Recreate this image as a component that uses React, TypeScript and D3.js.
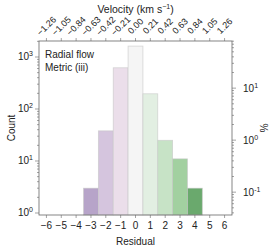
import React from "react";
import * as d3 from "d3";

// residual bins and counts
const bins = [-3, -2, -1, 0, 1, 2, 3, 4];
const counts = [3, 38, 620, 1620, 196, 25, 11, 3];
const barColors = ["#b7a4c9", "#d5c5de", "#ebdeea", "#f5f5f5", "#e2efe2", "#c7e3c6", "#a2d0a0", "#6aa96d"];
const residualTicks = [-6, -5, -4, -3, -2, -1, 0, 1, 2, 3, 4, 5, 6];
const velocityStep = 0.21;
const countTicks = [1, 10, 100, 1000];
const pctTicks = [0.1, 1, 10];

const W = 274;
const H = 249;
const left = 39;
const right = 232;
const top = 41;
const bottom = 215;
const font = "'Liberation Sans', Arial, sans-serif";
const axisColor = "#666";
const textColor = "#222";

const fmtMinus = (v: number, digits = 0) =>
  v.toFixed(digits).replace("-", "\u2212");

export default function App() {
  const total = d3.sum(counts);
  const x = d3.scaleLinear().domain([-6.5, 6.5]).range([left, right]);
  const yMin = 0.915;
  const yMax = 2030;
  const y = d3.scaleLog().domain([yMin, yMax]).range([bottom, top]);
  const yPct = d3
    .scaleLog()
    .domain([(yMin / total) * 100, (yMax / total) * 100])
    .range([bottom, top]);

  // minor ticks for both log axes
  const minor = (lo: number, hi: number) => {
    const out: number[] = [];
    for (let e = Math.floor(Math.log10(lo)); e <= Math.ceil(Math.log10(hi)); e++) {
      for (let m = 1; m < 10; m++) {
        const v = m * Math.pow(10, e);
        if (v >= lo && v <= hi) out.push(v);
      }
    }
    return out;
  };
  const [cLo, cHi] = y.domain();
  const [pLo, pHi] = yPct.domain();

  return (
    <svg
      width={W}
      height={H}
      style={{ position: "absolute", left: 0, top: 0, background: "#fff" }}
      fontFamily={font}
    >
      {/* bars */}
      {bins.map((b, i) => (
        <rect
          key={b}
          x={x(b - 0.5)}
          y={y(counts[i])}
          width={x(b + 0.5) - x(b - 0.5)}
          height={bottom - y(counts[i])}
          fill={barColors[i]}
          stroke="#c8c8c8"
          strokeOpacity={0.7}
          strokeWidth={0.8}
        />
      ))}

      {/* frame */}
      <rect x={left} y={top} width={right - left} height={bottom - top} fill="none" stroke={axisColor} strokeWidth={0.8} />

      {/* left axis */}
      {minor(cLo, cHi).map((v) => (
        <line key={"lm" + v} x1={left} x2={left - (countTicks.includes(v) ? 4 : 2)} y1={y(v)} y2={y(v)} stroke={axisColor} strokeWidth={0.6} />
      ))}
      {countTicks.map((v) => (
        <text key={"lt" + v} x={33} y={y(v)} dy="0.35em" textAnchor="end" fontSize={10} fill={textColor}>
          <tspan>10</tspan>
          <tspan dy={-4} fontSize={7}>{Math.log10(v)}</tspan>
        </text>
      ))}
      <text transform={`translate(11,${(top + bottom) / 2}) rotate(-90)`} textAnchor="middle" dy="0.35em" fontSize={10} fill={textColor}>
        Count
      </text>

      {/* right axis */}
      {minor(pLo, pHi).map((v) => (
        <line key={"rm" + v} x1={right} x2={right + (pctTicks.some((t) => Math.abs(t - v) < 1e-9) ? 4 : 2)} y1={yPct(v)} y2={yPct(v)} stroke={axisColor} strokeWidth={0.6} />
      ))}
      {pctTicks.map((v) => (
        <text key={"rt" + v} x={243} y={yPct(v)} dy="0.35em" textAnchor="start" fontSize={10} fill={textColor}>
          <tspan>10</tspan>
          <tspan dy={-4} fontSize={7}>{Math.round(Math.log10(v))}</tspan>
        </text>
      ))}
      <text transform={`translate(263,${(top + bottom) / 2}) rotate(90)`} textAnchor="middle" dy="0.35em" fontSize={10} fill={textColor}>
        %
      </text>

      {/* bottom axis */}
      {residualTicks.map((t) => (
        <g key={"b" + t}>
          <line x1={x(t)} x2={x(t)} y1={bottom} y2={bottom + 3} stroke={axisColor} strokeWidth={0.6} />
          <text x={x(t)} y={bottom + 14} textAnchor="middle" fontSize={10} fill={textColor}>
            {fmtMinus(t)}
          </text>
        </g>
      ))}
      <text x={(left + right) / 2} y={245} textAnchor="middle" fontSize={10} fill={textColor}>
        Residual
      </text>

      {/* top axis: velocity */}
      {residualTicks.map((t) => (
        <g key={"t" + t}>
          <line x1={x(t)} x2={x(t)} y1={top} y2={top - 3} stroke={axisColor} strokeWidth={0.6} />
          <text transform={`translate(${x(t)},26) rotate(-45)`} textAnchor="middle" dy="0.35em" fontSize={9} fill={textColor}>
            {fmtMinus(t * velocityStep, 2)}
          </text>
        </g>
      ))}
      <text x={(left + right) / 2} y={13} textAnchor="middle" fontSize={10.5} fill={textColor}>
        <tspan>Velocity (km s</tspan>
        <tspan dy={-4} fontSize={7}>{"\u22121"}</tspan>
        <tspan dy={4}>)</tspan>
      </text>

      {/* annotation */}
      <text x={45} y={58} fontSize={10} fill={textColor}>Radial flow</text>
      <text x={45} y={71} fontSize={10} fill={textColor}>Metric (iii)</text>
    </svg>
  );
}
